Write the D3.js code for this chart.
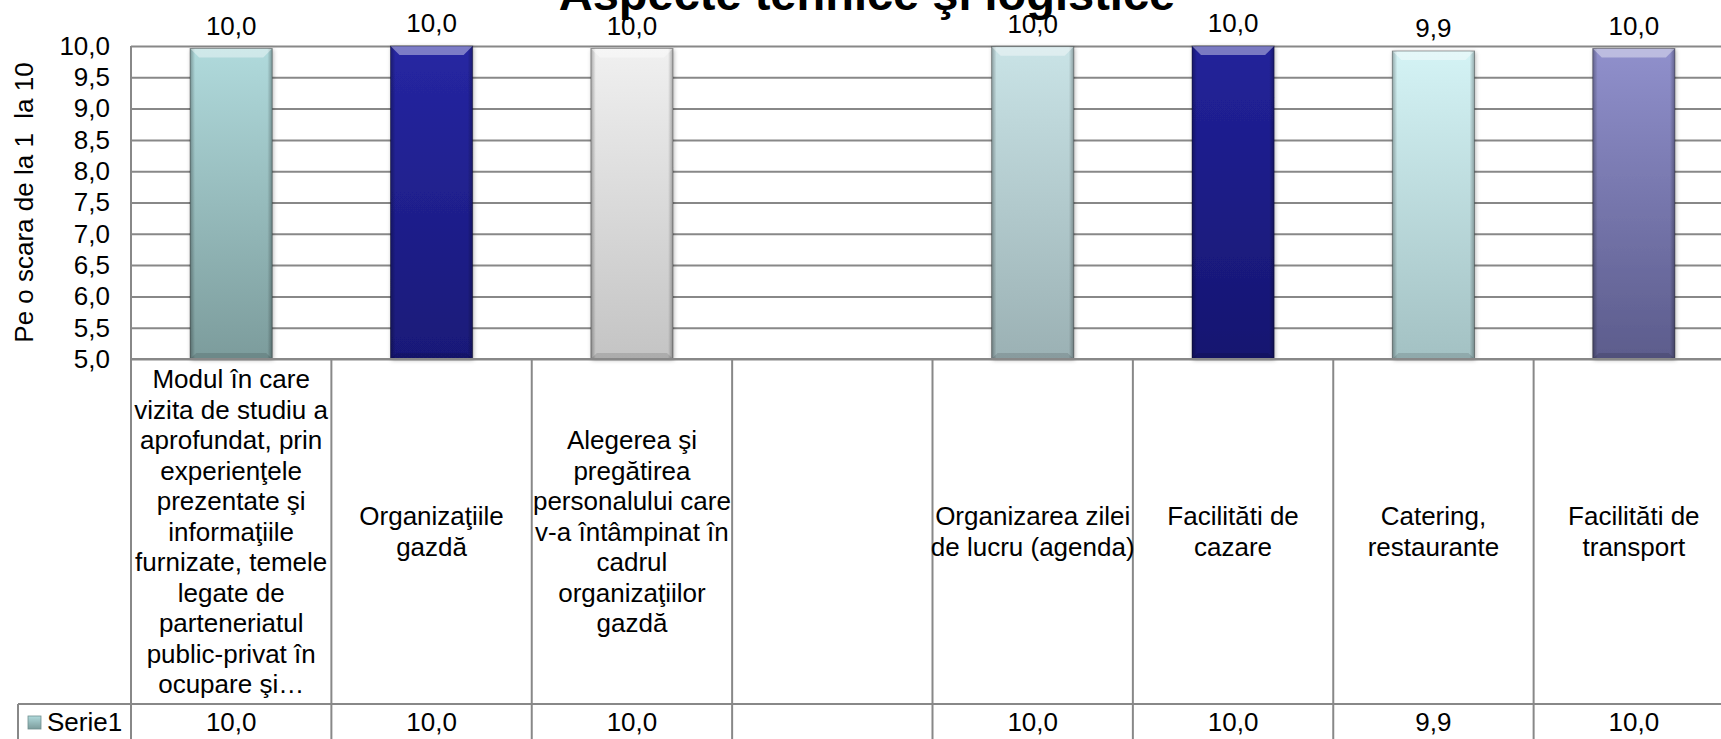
<!DOCTYPE html>
<html>
<head>
<meta charset="utf-8">
<script src="https://cdn.jsdelivr.net/npm/d3@7"></script>
<style>
    body { margin: 0; background: #fff; }
    svg { display: block; font-family: "Liberation Sans", Arial, sans-serif; }
</style>
</head>
<body>
<svg id="chart"></svg>
<script>
// data
const categories = [
    "Modul în care\nvizita de studiu a\naprofundat, prin\nexperienţele\nprezentate şi\ninformaţiile\nfurnizate, temele\nlegate de\nparteneriatul\npublic-privat în\nocupare şi…",
    "Organizaţiile\ngazdă",
    "Alegerea şi\npregătirea\npersonalului care\nv-a întâmpinat în\ncadrul\norganizaţiilor\ngazdă",
    "",
    "Organizarea zilei\nde lucru (agenda)",
    "Facilităti de\ncazare",
    "Catering,\nrestaurante",
    "Facilităti de\ntransport"
];
const serie1 = [9.96, 10.0, 9.96, null, 9.99, 10.0, 9.92, 9.96];
const seriesName = "Serie1";
const yTicks = [5.0, 5.5, 6.0, 6.5, 7.0, 7.5, 8.0, 8.5, 9.0, 9.5, 10.0];
const chartTitle = "Aspecte tehnice şi logistice";
const yTitle = "Pe o scara de la 1  la 10";

// per-bar gradient colours (top, bottom)
const barColors = [
    ["#b0dadc", "#7c9c9c"],
    ["#2626a2", "#191978"],
    ["#f0f0f0", "#c4c4c4"],
    ["#cccccc", "#999999"],
    ["#c9e3e6", "#9bb1b4"],
    ["#22229a", "#161670"],
    ["#d4f3f5", "#a3c1c3"],
    ["#9090cc", "#5c5c8c"]
];

let svg = d3.select("#chart").attr("width", 1721).attr("height", 739);

let plot = {left: 131, right: 1734, top: 46, bottom: 359},
    rowTop = 704, rowBottom = 743, tableLeft = 18,
    lineColor = "#888888", fontSize = 26;

let x = d3.scaleBand()
    .domain(d3.range(categories.length))
    .range([plot.left, plot.right]);

let y = d3.scaleLinear()
    .domain([5, 10])
    .range([plot.bottom, plot.top]);

let fmt = v => v == null ? "" : d3.format(".1f")(v).replace(".", ",");

let defs = svg.append("defs");
barColors.forEach((c, i) => {
    let g = defs.append("linearGradient").attr("id", "bar" + i)
        .attr("x1", 0).attr("y1", 0).attr("x2", 0).attr("y2", 1);
    g.append("stop").attr("offset", "0%").attr("stop-color", c[0]);
    g.append("stop").attr("offset", "100%").attr("stop-color", c[1]);
});
let side = defs.append("linearGradient").attr("id", "side");
[[0, 0.3], [0.06, 0], [0.94, 0], [1, 0.3]].forEach(s => {
    side.append("stop").attr("offset", s[0]).attr("stop-color", "#000").attr("stop-opacity", s[1]);
});
defs.append("filter").attr("id", "shadow")
    .attr("x", "-20%").attr("y", "-5%").attr("width", "140%").attr("height", "110%")
    .append("feDropShadow")
    .attr("dx", 1).attr("dy", 1).attr("stdDeviation", 2)
    .attr("flood-color", "#000").attr("flood-opacity", 0.3);

// title, partly outside the top edge
svg.append("text")
    .attr("x", 867).attr("y", 10)
    .attr("text-anchor", "middle")
    .attr("font-size", 47).attr("font-weight", "bold")
    .text(chartTitle);

// y axis with gridlines
let yAxis = svg.append("g")
    .attr("transform", "translate(" + plot.left + ",0)")
    .call(d3.axisLeft(y)
        .tickValues(yTicks)
        .tickSize(-(plot.right - plot.left))
        .tickPadding(21)
        .tickFormat(fmt));
yAxis.select(".domain").remove();
yAxis.selectAll(".tick line").attr("stroke", lineColor).attr("stroke-width", 2);
yAxis.selectAll(".tick text")
    .attr("font-size", fontSize).attr("fill", "#000")
    .attr("font-family", "Liberation Sans, Arial, sans-serif");

svg.append("text")
    .attr("transform", "translate(33," + (plot.top + plot.bottom) / 2 + ") rotate(-90)")
    .attr("text-anchor", "middle")
    .attr("font-size", fontSize)
    .style("white-space", "pre")
    .text(yTitle);

// bars
let barW = x.bandwidth() * 0.41;
let bars = svg.append("g");
serie1.forEach((v, i) => {
    if (v == null) return;
    let x0 = x(i) + (x.bandwidth() - barW) / 2,
        x1 = x0 + barW,
        top = y(Math.min(v, 10)),
        bot = y(5),
        bev = 9;
    let b = bars.append("g");
    b.append("rect")
        .attr("x", x0).attr("y", top)
        .attr("width", barW).attr("height", bot - top)
        .attr("fill", "url(#bar" + i + ")")
        .attr("filter", "url(#shadow)");
    b.append("rect")
        .attr("x", x0).attr("y", top)
        .attr("width", barW).attr("height", bot - top)
        .attr("fill", "url(#side)");
    b.append("polygon")
        .attr("points", [[x0, top], [x1, top], [x1 - bev, top + bev], [x0 + bev, top + bev]].join(" "))
        .attr("fill", "#fff").attr("fill-opacity", 0.4);
    b.append("polygon")
        .attr("points", [[x0, bot], [x1, bot], [x1 - 6, bot - 6], [x0 + 6, bot - 6]].join(" "))
        .attr("fill", "#000").attr("fill-opacity", 0.12);
    b.append("rect")
        .attr("x", x0).attr("y", top)
        .attr("width", barW).attr("height", bot - top)
        .attr("fill", "none")
        .attr("stroke", "#000").attr("stroke-opacity", 0.35);

    bars.append("text")
        .attr("x", x0 + barW / 2).attr("y", top - 14)
        .attr("text-anchor", "middle")
        .attr("font-size", fontSize)
        .text(fmt(v));
});

// data table below the plot
let table = svg.append("g")
    .attr("stroke", lineColor).attr("stroke-width", 2);
table.append("line")
    .attr("x1", plot.left).attr("x2", plot.right)
    .attr("y1", plot.bottom).attr("y2", plot.bottom);
table.append("line")
    .attr("x1", plot.left).attr("x2", plot.left)
    .attr("y1", plot.top).attr("y2", plot.bottom);
table.append("line")
    .attr("x1", tableLeft).attr("x2", plot.right)
    .attr("y1", rowTop).attr("y2", rowTop);
table.append("line")
    .attr("x1", tableLeft).attr("x2", tableLeft)
    .attr("y1", rowTop).attr("y2", rowBottom);
table.selectAll(".col")
    .data(d3.range(categories.length + 1))
    .enter()
    .append("line")
        .attr("x1", d => plot.left + d * x.step())
        .attr("x2", d => plot.left + d * x.step())
        .attr("y1", plot.bottom).attr("y2", rowBottom);

let lineH = 30.5,
    catMid = (plot.bottom + rowTop) / 2;
categories.forEach((c, i) => {
    let lines = c ? c.split("\n") : [];
    let t = svg.append("text")
        .attr("text-anchor", "middle")
        .attr("font-size", fontSize);
    lines.forEach((l, k) => {
        t.append("tspan")
            .attr("x", x(i) + x.bandwidth() / 2)
            .attr("y", catMid - (lines.length - 1) / 2 * lineH + k * lineH + 9)
            .text(l);
    });
});

let rowMid = (rowTop + 740) / 2;
svg.append("g").selectAll("text")
    .data(serie1)
    .enter()
    .append("text")
        .attr("x", (d, i) => x(i) + x.bandwidth() / 2)
        .attr("y", rowMid + 9)
        .attr("text-anchor", "middle")
        .attr("font-size", fontSize)
        .text(d => fmt(d));

// legend key inside the table
svg.append("rect")
    .attr("x", 28).attr("y", rowMid - 6)
    .attr("width", 13).attr("height", 13)
    .attr("fill", "url(#bar0)")
    .attr("stroke", "#6f8f8f").attr("stroke-width", 0.8);
svg.append("text")
    .attr("x", 47).attr("y", rowMid + 9)
    .attr("font-size", fontSize)
    .text(seriesName);
</script>
</body>
</html>
